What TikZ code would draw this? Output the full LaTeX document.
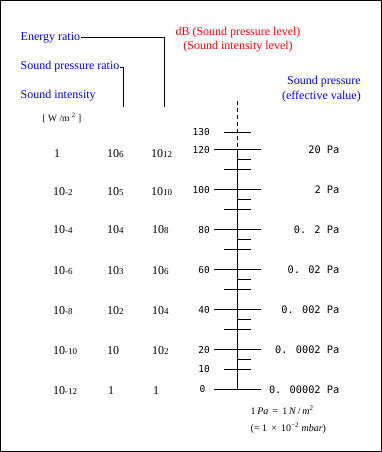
\documentclass[tikz,border=0pt]{standalone}
\usepackage{fontspec}
\setmainfont{Liberation Serif}
\newfontfamily\monof{DejaVu Sans Mono}
\definecolor{tblue}{RGB}{0,0,255}
\definecolor{tred}{RGB}{255,0,0}
\newcommand\tenpow[1]{10{\fontsize{9}{9}\selectfont #1}}
\begin{document}
\begin{tikzpicture}[x=1pt,y=-1pt,
  title/.style={font=\fontsize{12}{14}\selectfont, inner sep=0pt},
  bluetitle/.style={title, text=tblue},
  redtitle/.style={title, text=tred},
  num/.style={font=\fontsize{12}{13}\selectfont, inner sep=0pt, anchor=west},
  dblab/.style={font=\monof\fontsize{9.5}{10}\selectfont, inner sep=0pt, anchor=east},
  palab/.style={font=\monof\fontsize{10.3}{11}\selectfont, inner sep=0pt, anchor=east},
  note/.style={font=\fontsize{10}{11}\selectfont, inner sep=0pt, anchor=west},
  conn/.style={line width=1pt},
  tickline/.style={line width=1pt}]
\useasboundingbox (0,0) rectangle (382,452);
\draw[line width=1pt] (0.5,0.5) rectangle (381.5,451.5);

% titles
\node[bluetitle, anchor=west] (er) at (20.5,38) {Energy ratio};
\node[bluetitle, anchor=west] (spr) at (20.5,67) {Sound pressure ratio};
\node[bluetitle, anchor=west] (si) at (20.5,96) {Sound intensity};
\node[font=\fontsize{9.5}{10}\selectfont, inner sep=0pt] (unit) at (62,118) {[ W /m \textsuperscript{2} ]};
\node[redtitle] (db1) at (238,33) {dB (Sound pressure level)};
\node[redtitle] (db2) at (238,47) {(Sound intensity level)};
\node[bluetitle, anchor=east] (sp1) at (361,82) {Sound pressure};
\node[bluetitle, anchor=east] (sp2) at (361,97) {(effective value)};

% connectors
\coordinate (erend) at (164.5,106.5);
\coordinate (sprend) at (123.5,106.5);
\draw[conn] ([xshift=1pt]er.east) -| (erend);
\draw[conn] ([xshift=0.5pt,yshift=-0.5pt]spr.east) -| (sprend);

% axis
\draw[tickline, dash pattern=on 4pt off 3pt] (237.5,101) -- (237.5,150);
\draw[tickline] (237.5,150) -- (237.5,389.5);
\foreach \d in {0,20,...,120} \draw[tickline] (214,{389.5-2*\d}) -- (261,{389.5-2*\d});
\foreach \d in {10,30,...,110} \draw[tickline] (224,{389.5-2*\d}) -- (251,{389.5-2*\d});
\draw[tickline] (224,132.5) -- (251,132.5);
\foreach \d in {15,35,...,115} \draw[tickline] (237.5,{389.5-2*\d}) -- (251,{389.5-2*\d});

% dB labels
\node[dblab] (d130) at (210,132.5) {130};
\node[dblab] (d120) at (210,150) {120};
\node[dblab] (d100) at (210,190) {100};
\node[dblab] (d80) at (210,230) {80};
\node[dblab] (d60) at (210,270) {60};
\node[dblab] (d40) at (210,310) {40};
\node[dblab] (d20) at (210,350) {20};
\node[dblab] (d10) at (210,369.5) {10};
\node[dblab] (d0) at (205.5,389.5) {0};

% Pa labels
\node[palab] (pa1) at (339.5,150) {20 Pa};
\node[palab] (pa2) at (339.5,190) {2 Pa};
\node[palab] (pa3) at (339.5,230) {0. 2 Pa};
\node[palab] (pa4) at (339.5,270) {0. 02 Pa};
\node[palab] (pa5) at (339.5,310) {0. 002 Pa};
\node[palab] (pa6) at (339.5,350) {0. 0002 Pa};
\node[palab] (pa7) at (339.5,389.5) {0. 00002 Pa};

% sound intensity column
\node[num] (i1) at (54,154) {1};
\node[num] (i2) at (53,192) {\tenpow{-2}};
\node[num] (i3) at (53,230) {\tenpow{-4}};
\node[num] (i4) at (53,271) {\tenpow{-6}};
\node[num] (i5) at (53,311) {\tenpow{-8}};
\node[num] (i6) at (53,351) {\tenpow{-10}};
\node[num] (i7) at (53,391) {\tenpow{-12}};
% sound pressure ratio column
\node[num] (p1) at (107,154) {\tenpow{6}};
\node[num] (p2) at (107,192) {\tenpow{5}};
\node[num] (p3) at (107,230) {\tenpow{4}};
\node[num] (p4) at (107,271) {\tenpow{3}};
\node[num] (p5) at (107,311) {\tenpow{2}};
\node[num] (p6) at (107,351) {10};
\node[num] (p7) at (108,391) {1};
% energy ratio column
\node[num] (e1) at (151,154) {\tenpow{12}};
\node[num] (e2) at (151,192) {\tenpow{10}};
\node[num] (e3) at (152,230) {\tenpow{8}};
\node[num] (e4) at (152,271) {\tenpow{6}};
\node[num] (e5) at (152,311) {\tenpow{4}};
\node[num] (e6) at (152,351) {\tenpow{2}};
\node[num] (e7) at (153,391) {1};

% note
\node[note] (n1) at (250.5,410) {1\,\textit{Pa} \,=\, 1\,\textit{N}\,/\,\textit{m}\textsuperscript{2}};
\node[note] (n2) at (250.5,428) {(= 1 \,×\, 10\textsuperscript{−2} \textit{mbar})};
\end{tikzpicture}
\end{document}
